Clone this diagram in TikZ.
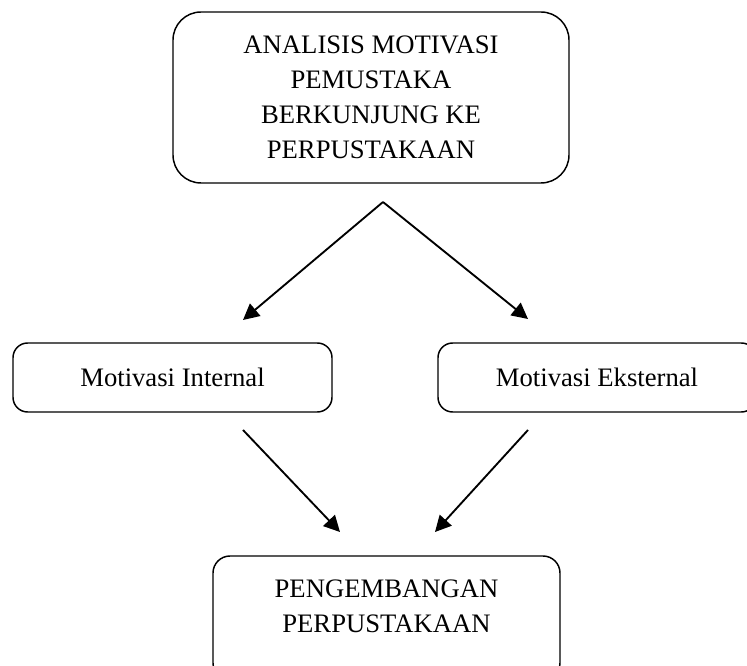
\documentclass[tikz,border=0pt]{standalone}
\usepackage{fontspec}
\setmainfont{Liberation Serif}
\usepackage{tikz}
\usetikzlibrary{arrows.meta, positioning}

\begin{document}
\begin{tikzpicture}[
  x=0.75pt, y=-0.75pt,
  every node/.style={font=\fontsize{20}{26.25}\selectfont, align=center},
  mainbox/.style={rectangle, draw, line width=1.1pt, rounded corners=21pt, inner sep=0pt},
  sidebox/.style={rectangle, draw, line width=1.1pt, rounded corners=11pt, inner sep=0pt},
  link/.style={draw, line width=1.4pt, -{Triangle[length=12pt, width=12pt]}}
]
\useasboundingbox (0,0) rectangle (747,666);

\node[mainbox, minimum width=297pt, minimum height=128.25pt] (analisis) at (371,97.5)
  {ANALISIS MOTIVASI\\PEMUSTAKA\\BERKUNJUNG KE\\PERPUSTAKAAN};
\node[sidebox, minimum width=239.25pt, minimum height=51.75pt] (internal) at (172.5,377.5)
  {Motivasi Internal};
\node[sidebox, minimum width=238.5pt, minimum height=51.75pt] (eksternal) at (597,377.5)
  {Motivasi Eksternal};
\node[sidebox, rounded corners=12.75pt, minimum width=260.25pt, minimum height=93pt,
  text depth=17.75pt] (pengembangan) at (386.5,618)
  {PENGEMBANGAN\\PERPUSTAKAAN};

\coordinate (fork) at (383,202);
\coordinate (inTip) at (243,320);
\coordinate (exTip) at (528,319);
\coordinate (inFoot) at (243,430);
\coordinate (exFoot) at (528,430);
\coordinate (devL) at (340,532);
\coordinate (devR) at (435,532);

\draw[link] (fork) -- (inTip);
\draw[link] (fork) -- (exTip);
\draw[link] (inFoot) -- (devL);
\draw[link] (exFoot) -- (devR);

\end{tikzpicture}
\end{document}
